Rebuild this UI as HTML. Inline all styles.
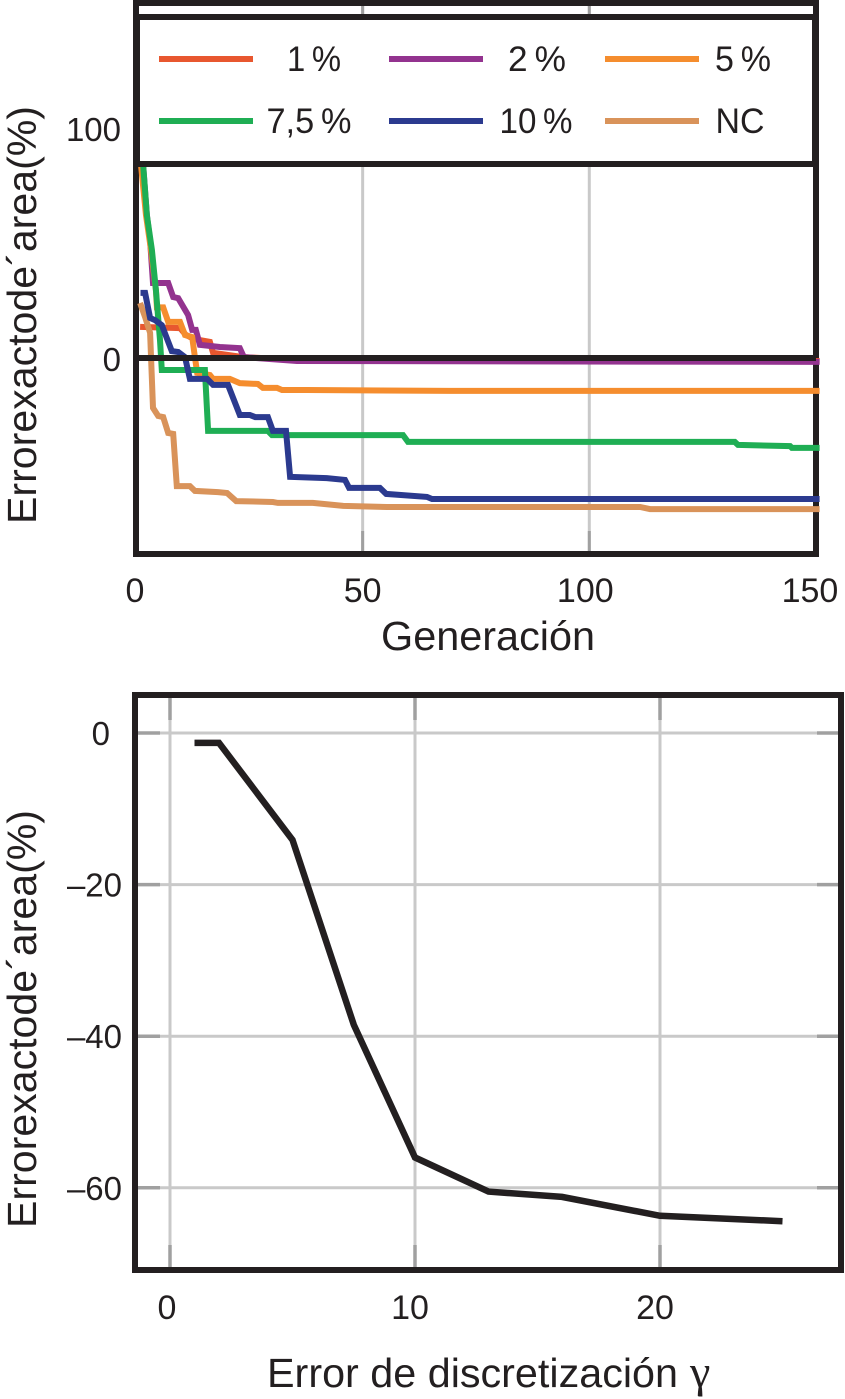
<!DOCTYPE html>
<html lang="es">
<head>
<meta charset="utf-8">
<title>Error exacto de área</title>
<style>
html,body{margin:0;padding:0;background:#fff;}
svg{display:block;}
text{font-family:"Liberation Sans",sans-serif;fill:#231f20;}
</style>
</head>
<body>
<svg id="figure" width="845" height="1399" viewBox="0 0 845 1399" xmlns="http://www.w3.org/2000/svg"></svg>
<script>
// Top chart data: [generation, area error %]
const series1pct = [[0.9,13.5],[9.7,13],[11,10],[12.4,8.7],[14.1,7.8],[16.3,7],[17,2.2],[23.6,0.4],[36.2,-0.9],[150.8,-1.3]];
const series2pct = [[1.5,86],[2.4,62],[3.1,51],[3.75,32.6],[7.1,32.6],[8.2,26.5],[9.3,26],[11.5,18.7],[12.4,12.2],[13.2,12.2],[14.1,5.7],[18.5,4.8],[22.9,4.3],[23.8,0.4],[35.5,-1.3],[150.8,-1.7]];
const series5pct = [[1.1,84],[2.2,62],[3.3,47],[4.4,29.6],[4.6,22],[6,22],[7.1,15.7],[9.7,15.7],[10.8,10],[12.4,9.1],[13,0.4],[13.5,-6.5],[16.3,-7.4],[17,-9.1],[20.7,-9.1],[22.9,-10.9],[26.9,-11.3],[28,-13],[31.1,-13],[32.2,-13.9],[37.7,-13.9],[69.3,-14.3],[150.8,-14.3]];
const series75pct = [[1.5,86],[2.4,62],[3.5,47],[4.4,29.6],[5.3,7.8],[5.7,-5.2],[15.2,-5.2],[15.9,-31.7],[29.1,-31.7],[30,-33.5],[58.9,-33.5],[60,-36.5],[132.1,-36.5],[132.8,-37.8],[144.3,-38.3],[144.7,-39.1],[150.8,-39.1]];
const series10pct = [[1,28.3],[2,28.3],[3.1,17.4],[4.2,16.5],[5.7,14.3],[7.9,3],[9.3,2.6],[10.8,0.4],[11.9,-9.1],[15.7,-9.1],[17,-11.7],[20.3,-11.7],[22.9,-24.8],[25.1,-24.8],[26.3,-25.7],[29.1,-25.7],[30.2,-31.7],[33.1,-31.7],[34,-51.7],[42.1,-52.2],[46.1,-53],[47,-56.5],[53.8,-56.5],[55.2,-59.1],[64.2,-60.4],[65.3,-61.3],[150.8,-61.3]];
const seriesNC = [[0.9,23.9],[2,17.8],[3.1,10.9],[3.75,-21.7],[4.9,-25.2],[6,-25.7],[7.1,-32.6],[8.2,-33],[9,-55.7],[11.9,-55.7],[13,-57.8],[18.1,-58.3],[20.1,-58.7],[22.1,-62.2],[30.2,-62.6],[31.3,-63],[39,-63],[45.7,-64.3],[55.4,-64.8],[111.2,-64.8],[113.4,-65.7],[150.8,-65.7]];
const topXTicks = [0,50,100,150];
const topYTicks = [0,100];

// Bottom chart data
const gammaValues = [1,2,5,7.5,10,13,16,20,25];
const areaErrors = [-1.3,-1.3,-14.1,-38.5,-56,-60.5,-61.2,-63.7,-64.4];
const bottomXTicks = [0,10,20];
const bottomYTicks = [0,-20,-40,-60];

const svg = document.getElementById('figure');
const NS = 'http://www.w3.org/2000/svg';
const INK = '#231f20', GRID = '#c9c9c9', TICK = '#a0a0a0';

function make(tag, attrs, name, parent) {
  const el = document.createElementNS(NS, tag);
  for (const k in attrs) el.setAttribute(k, attrs[k]);
  
  
  (parent || svg).appendChild(el);
  return el;
}
function line(x1, y1, x2, y2, color, w, name) {
  return make('line', {x1:x1, y1:y1, x2:x2, y2:y2, stroke:color, 'stroke-width':w}, name);
}
function label(str, x, y, size, anchor, name, len) {
  const a = {x:x, y:y, 'font-size':size, 'text-anchor':anchor};
  if (len) { a.textLength = len; a.lengthAdjust = 'spacingAndGlyphs'; }
  const t = make('text', a, name);
  t.textContent = str;
  return t;
}
function poly(points, color, w, name) {
  return make('polyline', {points:points.map(p => p[0].toFixed(1)+','+p[1].toFixed(1)).join(' '), fill:'none', stroke:color, 'stroke-width':w, 'stroke-linejoin':'miter'}, name);
}

// ---- Top chart axes
const topX = g => 136 + 4.533 * g;
const topY = v => 358 - 2.3 * v;

topXTicks.slice(1, 3).forEach(t => {
  line(topX(t), 3, topX(t), 552, GRID, 3, 'top-x-gridline-' + t);
  line(topX(t), 531, topX(t), 552, TICK, 3, 'top-x-tick-bottom-' + t);
  line(topX(t), 3, topX(t), 17, TICK, 3, 'top-x-tick-top-' + t);
});

make('rect', {x:136, y:3, width:680, height:551, fill:'none', stroke:INK, 'stroke-width':6}, 'top-plot-frame');

const thin = '\u2009';
const topSeries = [
  {name:'series-1-percent', data:series1pct, color:'#e8572f', label:'1' + thin + '%', lx:314, lw:54, row:0, col:0},
  {name:'series-2-percent', data:series2pct, color:'#93338f', label:'2' + thin + '%', lx:537, lw:58, row:0, col:1},
  {name:'series-5-percent', data:series5pct, color:'#f58d2e', label:'5' + thin + '%', lx:743, lw:56, row:0, col:2},
  {name:'series-7-5-percent', data:series75pct, color:'#1fae54', label:'7,5' + thin + '%', lx:309, lw:85, row:1, col:0},
  {name:'series-10-percent', data:series10pct, color:'#2b3a8f', label:'10' + thin + '%', lx:536, lw:73, row:1, col:1},
  {name:'series-nc', data:seriesNC, color:'#d9935a', label:'NC', lx:740, lw:49, row:1, col:2}
];
const drawOrder = [0, 1, 2, 5, 3, 4];
drawOrder.forEach(i => {
  const s = topSeries[i];
  poly(s.data.map(p => [topX(p[0]), topY(p[1])]), s.color, 6, s.name);
});
line(137, topY(0), 816, topY(0), INK, 6, 'zero-reference-line');

// ---- Legend
make('rect', {x:137, y:17, width:678, height:147, fill:'#fff', stroke:INK, 'stroke-width':6}, 'legend-box');
const legendStarts = [159, 389, 605];
const legendRows = [59, 121];
topSeries.forEach(s => {
  const x0 = legendStarts[s.col], y0 = legendRows[s.row];
  line(x0, y0, x0 + 94, y0, s.color, 6, 'legend-swatch-' + s.name);
  label(s.label, s.lx, y0 + 12, 35, 'middle', 'legend-label-' + s.name, s.lw);
});

// ---- Top chart labels
const topLabelShift = t => t === 150 ? -6 : (t === 100 ? -4 : (t === 50 ? 0 : -1));
topXTicks.forEach(t => {
  label(String(t), topX(t) + topLabelShift(t), 602, 34, 'middle', 'top-x-tick-label-' + t);
});
topYTicks.forEach(t => {
  label(String(t), 121, topY(t) + 13, 33, 'end', 'top-y-tick-label-' + t);
});
label('Generación', 488, 650, 41, 'middle', 'top-x-axis-title', 214);
const topTitle = label('Errorexactode´area(%)', 0, 0, 41, 'start', 'top-y-axis-title', 418);
topTitle.setAttribute('transform', 'translate(36 524) rotate(-90)');

// ---- Bottom chart axes
const botX = g => 170 + 24.5 * g;
const botY = v => 733 - 7.58 * v;

bottomXTicks.forEach(t => {
  line(botX(t), 696, botX(t), 1268, GRID, 3, 'bottom-x-gridline-' + t);
  line(botX(t), 697, botX(t), 720, TICK, 3.5, 'bottom-x-tick-top-' + t);
  line(botX(t), 1245, botX(t), 1268, TICK, 3.5, 'bottom-x-tick-bottom-' + t);
});
bottomYTicks.forEach(t => {
  line(136, botY(t), 841, botY(t), GRID, 3, 'bottom-y-gridline-' + t);
  line(137, botY(t), 160, botY(t), TICK, 3.5, 'bottom-y-tick-left-' + t);
  line(817, botY(t), 840, botY(t), TICK, 3.5, 'bottom-y-tick-right-' + t);
});
make('rect', {x:135, y:695, width:706, height:575, fill:'none', stroke:INK, 'stroke-width':6}, 'bottom-plot-frame');

poly(gammaValues.map((g, i) => [botX(g), botY(areaErrors[i])]), INK, 6.5, 'error-vs-gamma-line');

bottomXTicks.forEach(t => {
  label(String(t), botX(t) - (t === 0 ? 3 : 5), 1319, 34, 'middle', 'bottom-x-tick-label-' + t);
});
bottomYTicks.forEach(t => {
  const str = t < 0 ? '–' + Math.abs(t) : String(t);
  label(str, t === 0 ? 110 : 122, botY(t) + 12, 33, 'end', 'bottom-y-tick-label-' + t);
});
label('Error de discretización', 267, 1387, 41, 'start', 'bottom-x-axis-title', 411);
const gammaGlyph = label('γ', 690, 1387, 46, 'start', 'gamma-symbol');
gammaGlyph.style.fontFamily = '"Liberation Serif", serif';
const botTitle = label('Errorexactode´area(%)', 0, 0, 41, 'start', 'bottom-y-axis-title', 418);
botTitle.setAttribute('transform', 'translate(36 1228) rotate(-90)');
</script>
</body>
</html>
